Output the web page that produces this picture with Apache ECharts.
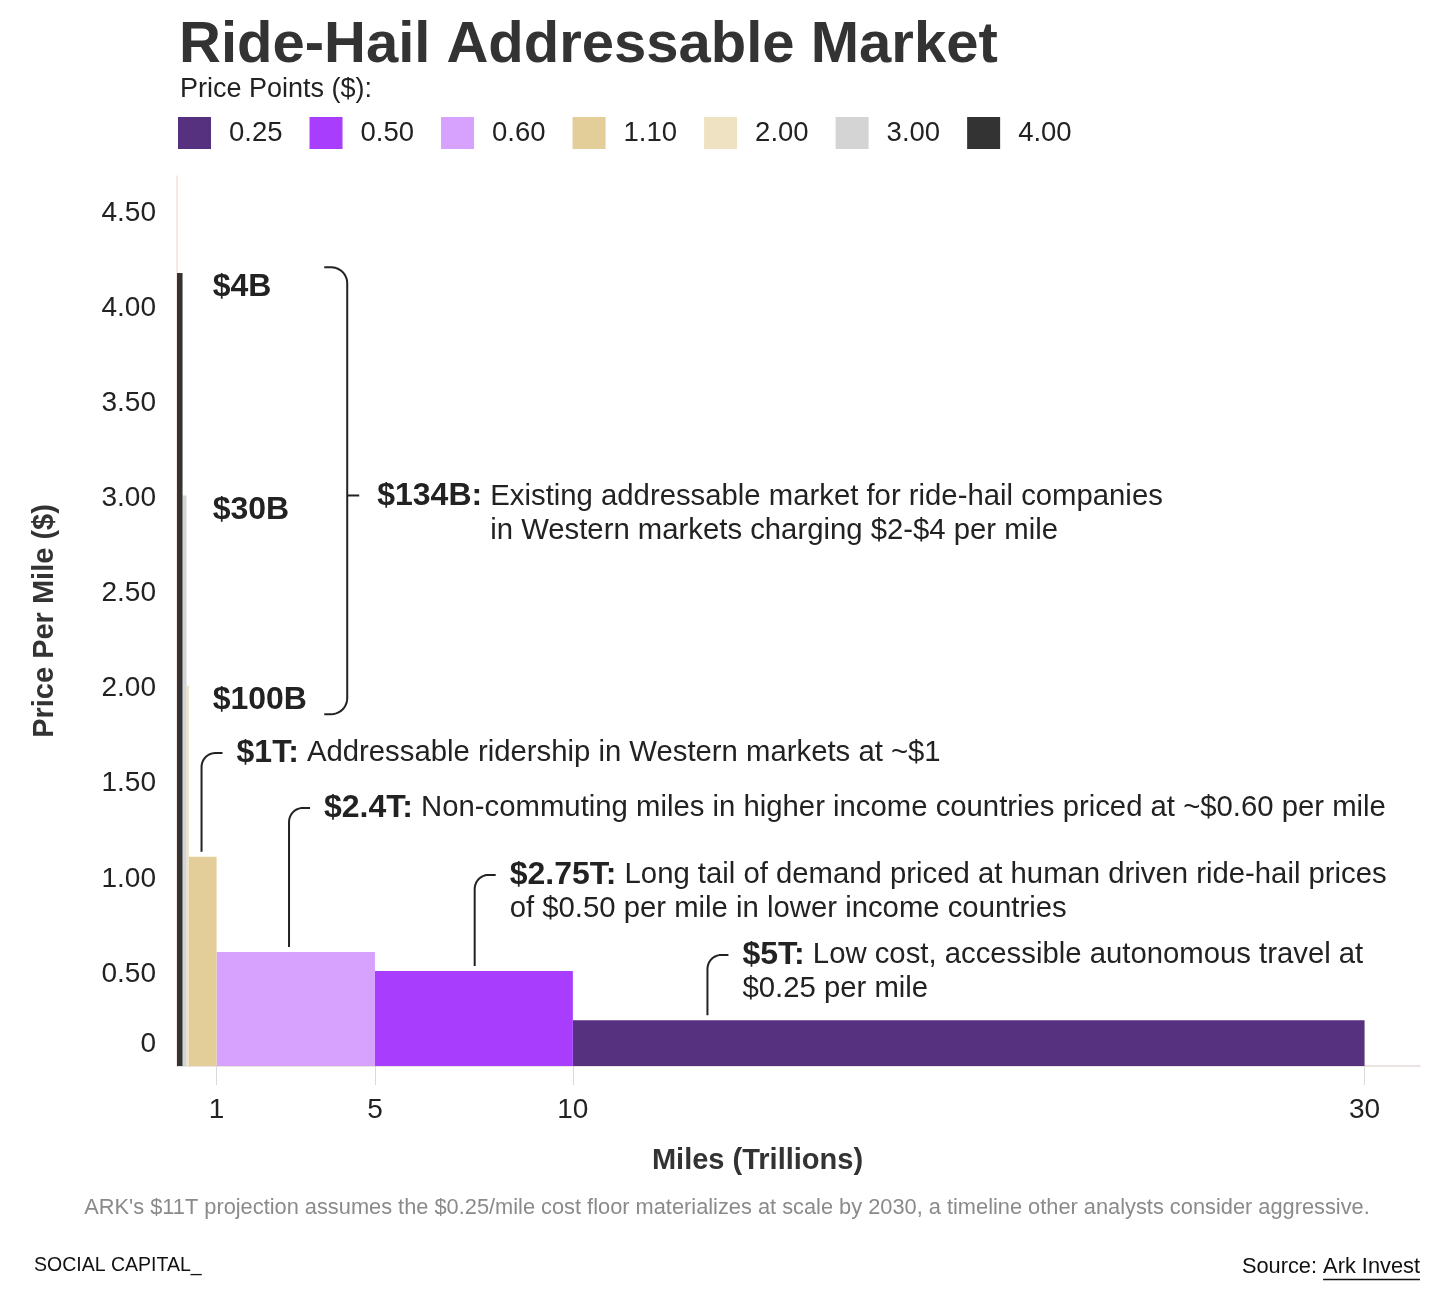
<!DOCTYPE html>
<html><head><meta charset="utf-8">
<script src="https://cdn.jsdelivr.net/npm/echarts@6/dist/echarts.min.js"></script>
<style>html,body{margin:0;padding:0;background:#fff}#c{width:1456px;height:1313px}</style>
</head><body><div id="c"></div>
<script>
// ---- data ----
const pricePoints = ['0.25', '0.50', '0.60', '1.10', '2.00', '3.00', '4.00'];
const barStart   = [10, 5, 1, 0.30, 0.24, 0.14, 0];      // miles (trillions), cumulative start
const barEnd     = [30, 10, 5, 1, 0.30, 0.24, 0.14];     // miles (trillions), cumulative end
const barHeight  = [0.24, 0.50, 0.60, 1.10, 2.00, 3.00, 4.17]; // price per mile as drawn
const marketSize = ['$5T:', '$2.75T:', '$2.4T:', '$1T:', '$100B', '$30B', '$4B'];
const xTickValues = [1, 5, 10, 30];
const yTickValues = [0, 0.5, 1, 1.5, 2, 2.5, 3, 3.5, 4, 4.5];
const calloutLines = [
  ['Low cost, accessible autonomous travel at', '$0.25 per mile'],
  ['Long tail of demand priced at human driven ride-hail prices', 'of $0.50 per mile in lower income countries'],
  ['Non-commuting miles in higher income countries priced at ~$0.60 per mile'],
  ['Addressable ridership in Western markets at ~$1']
];
const bracketLabel = '$134B:';
const bracketLines = ['Existing addressable market for ride-hail companies', 'in Western markets charging $2-$4 per mile'];

// ---- style ----
const colors = ['#56317f', '#a83dfd', '#d7a2fd', '#e3cd98', '#efe2c3', '#d4d4d4', '#333333'];
const FONT = '"Liberation Sans", Arial, Helvetica, sans-serif';
const INK = '#222';
const BODY = 29.3;

const chart = echarts.init(document.getElementById('c'));

const series = pricePoints.map((p, i) => ({
  type: 'custom',
  name: p,
  itemStyle: { color: colors[i] },
  data: [[barStart[i], barEnd[i], barHeight[i]]],
  encode: { x: [0, 1], y: 2 },
  silent: true,
  renderItem: (params, api) => {
    const a = api.coord([api.value(0), 0]);
    const b = api.coord([api.value(1), api.value(2)]);
    return { type: 'rect', shape: { x: a[0], y: b[1], width: b[0] - a[0], height: a[1] - b[1] },
             style: { fill: colors[i] } };
  }
}));

chart.setOption({
  animation: false,
  backgroundColor: '#fff',
  textStyle: { fontFamily: FONT },
  title: [
    { text: 'Ride-Hail Addressable Market', left: 179, top: 17, padding: 0,
      textStyle: { fontSize: 58, fontWeight: 'bold', color: '#333', fontFamily: FONT } },
    { text: 'Price Points ($):', left: 180, top: 76, padding: 0,
      textStyle: { fontSize: 27, fontWeight: 'normal', color: INK, fontFamily: FONT } }
  ],
  legend: {
    data: pricePoints, left: 178, top: 117, padding: 0,
    icon: 'rect', itemWidth: 33, itemHeight: 32, itemGap: 27,
    selectedMode: false,
    textStyle: { fontSize: 27.5, color: INK, fontFamily: FONT, padding: [3, 0, 0, 13] }
  },
  grid: { left: 177, right: 36, top: 176, bottom: 247, outerBoundsMode: 'none' },
  xAxis: {
    type: 'value', min: 0, max: 31.4,
    name: 'Miles (Trillions)', nameLocation: 'middle', nameGap: 80,
    nameTextStyle: { fontSize: 29, fontWeight: 'bold', color: '#333', fontFamily: FONT, padding: [0, 82, 0, 0] },
    axisLine: { show: true, lineStyle: { color: '#e2dbd8', width: 1.5 } },
    axisTick: { show: true, customValues: xTickValues, length: 19, lineStyle: { color: '#dadada', width: 1 } },
    axisLabel: { customValues: xTickValues, fontSize: 28, color: INK, margin: 30, fontFamily: FONT },
    splitLine: { show: false }
  },
  yAxis: {
    type: 'value', min: 0, max: 4.68, interval: 0.5,
    name: 'Price Per Mile ($)', nameLocation: 'middle', nameGap: 118,
    nameTextStyle: { fontSize: 29, fontWeight: 'bold', color: '#333', fontFamily: FONT },
    axisLine: { show: true, lineStyle: { color: '#f0e2dc', width: 1.5 } },
    axisTick: { show: false },
    splitLine: { show: false },
    axisLabel: {
      customValues: yTickValues, fontSize: 28, color: INK, margin: 21, fontFamily: FONT,
      padding: [6, 0, 0, 0],
      formatter: v => v === 0 ? '{z|0}' : v.toFixed(2),
      rich: { z: { fontSize: 28, color: INK, fontFamily: FONT, padding: [0, 0, 50, 0] } }
    }
  },
  series: series
});

// ---- annotations (layout anchored to data coordinates) ----
const px = (x, y) => chart.convertToPixel({ gridIndex: 0 }, [x, y]);
const arcPts = (cx, cy, r, t0, t1) => {
  const pts = [];
  for (let k = 0; k <= 10; k++) {
    const t = t0 + (t1 - t0) * k / 10;
    pts.push([cx + r * Math.cos(t), cy + r * Math.sin(t)]);
  }
  return pts;
};
const calloutLayout = [
  { bar: 0, leaderX: 13.4, textY: 0.584 },
  { bar: 1, leaderX: 7.52, textY: 1.005 },
  { bar: 2, leaderX: 2.83, textY: 1.357 },
  { bar: 3, leaderX: 0.62, textY: 1.646 }
];
const LINE_H = 34;
const g = [];
const boldRich = { b: { fontSize: 32, fontWeight: 'bold', fill: INK, color: INK, fontFamily: FONT } };

calloutLayout.forEach((c, k) => {
  const bottom = px(c.leaderX, barHeight[c.bar]);
  const top = px(c.leaderX, c.textY);
  const x = bottom[0], yb = bottom[1] - 5, yt = top[1], r = 14;
  const pts = [[x, yb]].concat(arcPts(x + r, yt + r, r, Math.PI, Math.PI * 1.5), [[x + 21, yt]]);
  g.push({ type: 'polyline', silent: true, shape: { points: pts },
    style: { stroke: INK, lineWidth: 2, fill: null, lineJoin: 'round' } });
  calloutLines[k].forEach((t, j) => {
    g.push({ type: 'text', silent: true, x: x + 35, y: yt + j * LINE_H,
      style: { text: j === 0 ? `{b|${marketSize[c.bar]}} ${t}` : t, rich: boldRich,
        fontSize: BODY, fontFamily: FONT, fill: INK, align: 'left', verticalAlign: 'middle' } });
  });
});

// bar value labels for the thin high-price bars
[4, 5, 6].forEach(i => {
  const p = px(0.9, barHeight[i] - 0.075);
  g.push({ type: 'text', silent: true, x: p[0], y: p[1],
    style: { text: marketSize[i], fontSize: 32, fontWeight: 'bold', fontFamily: FONT, fill: INK,
      align: 'left', verticalAlign: 'middle' } });
});

// bracket grouping the $2-$4 bars
const bl = { x0: 3.72, x1: 4.3, yTop: 4.2, yBot: 1.85, yMid: 3.0 };
const pTop = px(bl.x0, bl.yTop), pBot = px(bl.x1, bl.yBot), pMid = px(bl.x1, bl.yMid);
const bx0 = pTop[0], bx1 = pBot[0], by0 = pTop[1], by1 = pBot[1], bym = pMid[1], br = 16;
const bracketPts = [[bx0, by0]]
  .concat(arcPts(bx1 - br, by0 + br, br, -Math.PI / 2, 0))
  .concat(arcPts(bx1 - br, by1 - br, br, 0, Math.PI / 2))
  .concat([[bx0, by1]]);
g.push({ type: 'polyline', silent: true, shape: { points: bracketPts },
  style: { stroke: INK, lineWidth: 2, fill: null, lineJoin: 'round' } });
g.push({ type: 'line', silent: true, shape: { x1: bx1, y1: bym, x2: bx1 + 12, y2: bym },
  style: { stroke: INK, lineWidth: 2 } });
g.push({ type: 'text', silent: true, x: bx1 + 30, y: bym + 1,
  style: { text: `{b|${bracketLabel}} ${bracketLines[0]}`, rich: boldRich, fontSize: BODY, fontFamily: FONT,
    fill: INK, align: 'left', verticalAlign: 'middle' } });
g.push({ type: 'text', silent: true, x: bx1 + 143, y: bym + 1 + LINE_H,
  style: { text: bracketLines[1], fontSize: BODY, fontFamily: FONT, fill: INK, align: 'left', verticalAlign: 'middle' } });

// footer
g.push({ type: 'text', silent: true, x: 727, y: 1208,
  style: { text: "ARK's $11T projection assumes the $0.25/mile cost floor materializes at scale by 2030, a timeline other analysts consider aggressive.",
    fontSize: 21.8, fontFamily: FONT, fill: '#8a8a8a', align: 'center', verticalAlign: 'middle' } });
g.push({ type: 'text', silent: true, x: 34, y: 1266,
  style: { text: 'SOCIAL CAPITAL_', fontSize: 19.5, fontFamily: FONT, fill: '#111', align: 'left', verticalAlign: 'middle' } });
g.push({ type: 'text', silent: true, x: 1420, y: 1267,
  style: { text: 'Source: Ark Invest', fontSize: 21.8, fontFamily: FONT, fill: '#111', align: 'right', verticalAlign: 'middle' } });
const ctx = document.createElement('canvas').getContext('2d');
ctx.font = '21.8px "Liberation Sans", Arial, sans-serif';
const uw = ctx.measureText('Ark Invest').width;
g.push({ type: 'line', silent: true, shape: { x1: 1420 - uw, y1: 1279.5, x2: 1420, y2: 1279.5 },
  style: { stroke: '#111', lineWidth: 1.5 } });

chart.setOption({ graphic: g });
</script>
</body></html>
